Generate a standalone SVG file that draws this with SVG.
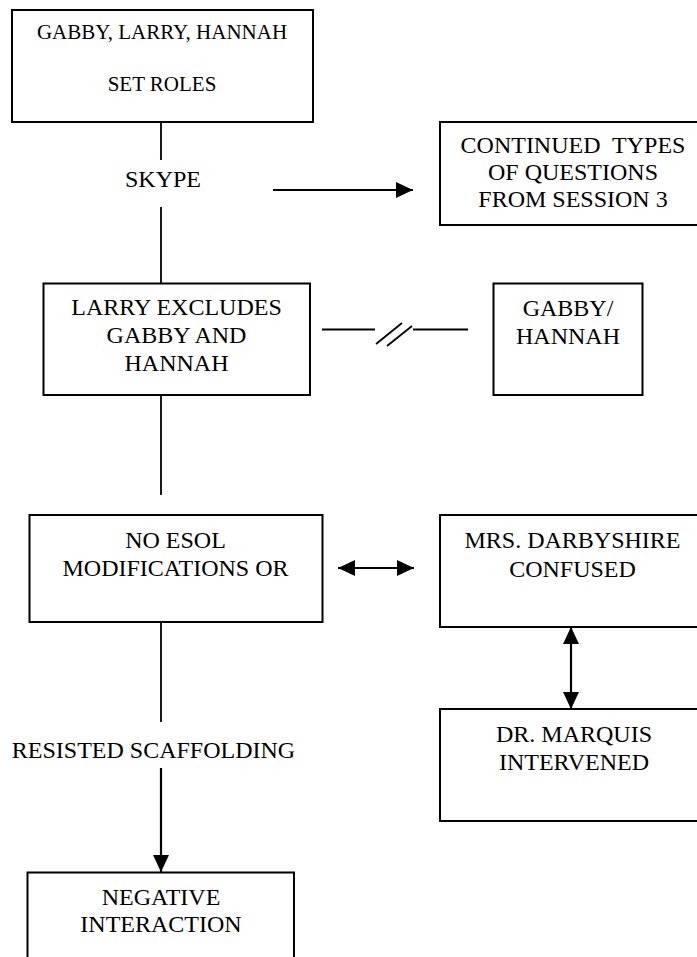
<svg xmlns="http://www.w3.org/2000/svg" width="697" height="957" viewBox="0 0 697 957">
  <style>
    .box { fill: #ffffff; stroke: #000000; stroke-width: 2; }
    .lbl { font-size: 24px; fill: #000000; text-anchor: middle; }
    .small { font-size: 21px; }
    .line { stroke: #000000; stroke-width: 1.8; fill: none; }
    .arrow { stroke: #000000; stroke-width: 2.2; fill: none; }
  </style>
  <defs>
    <!-- solid triangular arrowhead, reversed at the start of double-headed links -->
    <marker id="head" markerUnits="userSpaceOnUse" markerWidth="17" markerHeight="16" refX="17" refY="8" orient="auto-start-reverse">
      <path d="M0,0 L17,8 L0,16 Z" fill="#000000"/>
    </marker>
  </defs>

  <rect width="697" height="957" fill="#ffffff"/>

  <g font-family="'Liberation Serif', 'DejaVu Serif', serif">
  <!-- connectors -->
  <g id="connectors">
    <line class="line" x1="161" y1="122" x2="161" y2="160"/>
    <line class="line" x1="161" y1="207" x2="161" y2="283"/>
    <line class="arrow" x1="273" y1="190" x2="413" y2="190" marker-end="url(#head)"/>
    <line class="line" x1="322" y1="329.5" x2="375" y2="329.5"/>
    <line class="line" x1="376" y1="344" x2="402" y2="323"/>
    <line class="line" x1="387" y1="346" x2="412" y2="326"/>
    <line class="line" x1="413" y1="329.5" x2="468" y2="329.5"/>
    <line class="line" x1="161" y1="395" x2="161" y2="495"/>
    <line class="arrow" x1="338" y1="568" x2="414" y2="568" marker-start="url(#head)" marker-end="url(#head)"/>
    <line class="arrow" x1="571" y1="627" x2="571" y2="709" marker-start="url(#head)" marker-end="url(#head)"/>
    <line class="line" x1="161" y1="622" x2="161" y2="722"/>
    <line class="arrow" x1="161" y1="768" x2="161" y2="872" marker-end="url(#head)"/>
    <text class="lbl" x="163" y="187">SKYPE</text>
    <text class="lbl" x="153.5" y="758">RESISTED SCAFFOLDING</text>
  </g>

  <g id="set-roles">
    <rect class="box" x="12" y="10" width="301" height="112"/>
    <text class="lbl small" x="162" y="39">GABBY, LARRY, HANNAH</text>
    <text class="lbl small" x="162" y="91">SET ROLES</text>
  </g>

  <g id="continued-types">
    <rect class="box" x="440" y="122" width="262" height="103"/>
    <text class="lbl" x="573" y="153" xml:space="preserve">CONTINUED  TYPES</text>
    <text class="lbl" x="573" y="180">OF QUESTIONS</text>
    <text class="lbl" x="573" y="207">FROM SESSION 3</text>
  </g>

  <g id="larry-excludes">
    <rect class="box" x="43.5" y="283.5" width="266.5" height="111.5"/>
    <text class="lbl" x="176.5" y="315">LARRY EXCLUDES</text>
    <text class="lbl" x="176.5" y="343">GABBY AND</text>
    <text class="lbl" x="176.5" y="371">HANNAH</text>
  </g>

  <g id="gabby-hannah">
    <rect class="box" x="493.5" y="283.5" width="149" height="111.5"/>
    <text class="lbl" x="568" y="316">GABBY/</text>
    <text class="lbl" x="568" y="344">HANNAH</text>
  </g>

  <g id="no-esol">
    <rect class="box" x="29.5" y="515" width="293" height="107"/>
    <text class="lbl" x="175.5" y="548">NO ESOL</text>
    <text class="lbl" x="175.5" y="576">MODIFICATIONS OR</text>
  </g>

  <g id="darbyshire">
    <rect class="box" x="440" y="515" width="262" height="112"/>
    <text class="lbl" x="572.5" y="548">MRS. DARBYSHIRE</text>
    <text class="lbl" x="572.5" y="577">CONFUSED</text>
  </g>

  <g id="marquis">
    <rect class="box" x="440" y="709" width="262" height="112"/>
    <text class="lbl" x="574" y="742">DR. MARQUIS</text>
    <text class="lbl" x="574" y="770">INTERVENED</text>
  </g>

  <g id="negative">
    <rect class="box" x="27.5" y="872.5" width="266.5" height="100"/>
    <text class="lbl" x="161" y="905">NEGATIVE</text>
    <text class="lbl" x="161" y="932">INTERACTION</text>
  </g>
  </g>
</svg>
